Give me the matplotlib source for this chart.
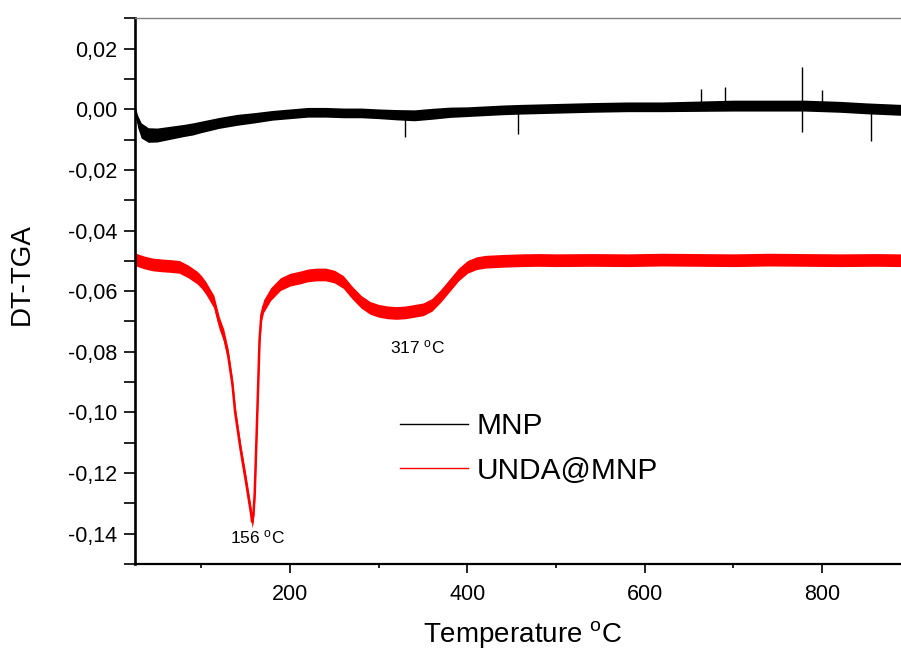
import matplotlib
matplotlib.use("Agg")
import matplotlib.pyplot as plt
from matplotlib.ticker import MultipleLocator, FuncFormatter

plt.rcParams['font.family'] = ['Liberation Sans', 'DejaVu Sans']
plt.rcParams['mathtext.default'] = 'regular'

# MNP (black) - centre line and noise half-width
t_mnp = [25, 28, 32, 40, 50, 60, 70, 80, 90, 100, 120, 140, 160, 180, 200, 220, 240,
         260, 280, 300, 320, 340, 360, 380, 400, 420, 440, 460, 500, 540, 580, 620,
         660, 700, 740, 780, 820, 850, 889]
dtg_mnp = [0.000, -0.004, -0.007, -0.0085, -0.0085, -0.008, -0.0075, -0.007, -0.0065,
           -0.0058, -0.0045, -0.0035, -0.0028, -0.002, -0.0015, -0.001, -0.001,
           -0.0012, -0.0012, -0.0015, -0.0018, -0.002, -0.0015, -0.001, -0.0008,
           -0.0005, -0.0002, 0.0, 0.0003, 0.0006, 0.0008, 0.0008, 0.001, 0.0012,
           0.0012, 0.0012, 0.0008, 0.0003, -0.0002]
noise_mnp = [0.001, 0.002, 0.0025, 0.0024, 0.0023, 0.0022, 0.0021, 0.002, 0.002,
             0.0019, 0.0018, 0.0018, 0.0017, 0.0016, 0.0016, 0.0016, 0.0016, 0.0016,
             0.0016, 0.0016, 0.0017, 0.0018, 0.0018, 0.0017, 0.0016, 0.0016, 0.0016,
             0.0016, 0.0016, 0.0016, 0.0016, 0.0016, 0.0017, 0.0018, 0.0018, 0.0018,
             0.0018, 0.0018, 0.0018]
# isolated spikes of the MNP trace (temperature, bottom, top)
spike_t = [330, 457, 663, 691, 777, 800, 855]
spike_lo = [-0.009, -0.008, 0.001, 0.001, -0.0076, 0.001, -0.0104]
spike_hi = [-0.002, 0.000, 0.0068, 0.0075, 0.0139, 0.0065, 0.000]

# UNDA@MNP (red)
t_unda = [25, 35, 45, 55, 65, 75, 85, 95, 100, 105, 110, 114, 120, 125, 130, 135, 138,
          144, 150, 153, 156, 157, 158.5, 160, 162, 163.5, 165.5, 167.5, 170, 174, 178,
          189, 200, 211, 220, 230, 240, 250, 260, 270, 280, 290, 300, 310, 320, 330,
          340, 350, 360, 370, 380, 390, 400, 410, 420, 440, 460, 480, 500, 540, 580,
          620, 660, 700, 740, 780, 820, 860, 889]
dtg_unda = [-0.0495, -0.0505, -0.0512, -0.0515, -0.0517, -0.052, -0.0535, -0.0555,
            -0.057, -0.059, -0.0615, -0.0635, -0.0705, -0.0745, -0.081, -0.091, -0.1,
            -0.112, -0.1225, -0.128, -0.1335, -0.136, -0.134, -0.127, -0.109, -0.095,
            -0.076, -0.068, -0.065, -0.063, -0.061, -0.0577, -0.0562, -0.0555, -0.0548,
            -0.0545, -0.0545, -0.0552, -0.057, -0.0605, -0.0635, -0.0655, -0.0665,
            -0.067, -0.0672, -0.067, -0.0665, -0.066, -0.0645, -0.0615, -0.058, -0.0545,
            -0.052, -0.0508, -0.0503, -0.0500, -0.0498, -0.0497, -0.0498, -0.0497,
            -0.0498, -0.0496, -0.0497, -0.0498, -0.0496, -0.0497, -0.0498, -0.0497,
            -0.0498]
noise_unda = 0.0021

fig = plt.figure(figsize=(9.01, 6.53), dpi=100)
ax = fig.add_axes([135 / 901, 1 - 564 / 653, 766 / 901, (564 - 18.3) / 653])

lo = [v - n for v, n in zip(dtg_mnp, noise_mnp)]
hi = [v + n for v, n in zip(dtg_mnp, noise_mnp)]
ax.fill_between(t_mnp, lo, hi, color='black', lw=0)
ax.plot(t_mnp, dtg_mnp, color='black', lw=1.2, label='MNP')
ax.vlines(spike_t, spike_lo, spike_hi, color='black', lw=1.0)

lo_r = [v - noise_unda for v in dtg_unda]
hi_r = [v + noise_unda for v in dtg_unda]
ax.fill_between(t_unda, lo_r, hi_r, color='red', lw=0)
ax.plot(t_unda, dtg_unda, color='red', lw=1.8, label='UNDA@MNP')

ax.set_xlim(25, 889)
ax.set_ylim(-0.15, 0.03)

ax.xaxis.set_major_locator(MultipleLocator(200))
ax.xaxis.set_minor_locator(MultipleLocator(100))
ax.yaxis.set_major_locator(MultipleLocator(0.02))
ax.yaxis.set_minor_locator(MultipleLocator(0.01))


def comma(v, pos):
    s = f"{v:.2f}"
    if s == "-0.00":
        s = "0.00"
    return s.replace('.', ',')


ax.yaxis.set_major_formatter(FuncFormatter(comma))

ax.spines['right'].set_visible(False)
ax.spines['top'].set_color('#808080')
ax.spines['top'].set_linewidth(1.0)
ax.spines['left'].set_linewidth(1.9)
ax.spines['bottom'].set_linewidth(1.6)

ax.tick_params(axis='y', which='both', direction='out', length=8, width=1.2,
               labelsize=15.5, pad=5)
ax.tick_params(axis='x', which='major', direction='out', length=6.5, width=1.2,
               labelsize=15.5, pad=8)
ax.tick_params(axis='x', which='minor', direction='out', length=3, width=1.2)

fig.text(22 / 901, 1 - 274 / 653, 'DT-TGA', rotation=90, ha='center', va='center',
         fontsize=20)
fig.text(523 / 901, 1 - 634 / 653, r'Temperature $^{o}$C', ha='center', va='center',
         fontsize=20)

ax.text(343.5, -0.0784, r'317 $^{o}$C', ha='center', va='center', fontsize=12.5)
ax.text(162.7, -0.1412, r'156 $^{o}$C', ha='center', va='center', fontsize=12.5)

leg = ax.legend(loc='center left', bbox_to_anchor=(400 / 901, 1 - 448.5 / 653),
                bbox_transform=fig.transFigure, frameon=False, fontsize=21.5,
                handlelength=2.27, handletextpad=0.3, labelspacing=0.55,
                borderpad=0, borderaxespad=0)
for line in leg.get_lines():
    line.set_linewidth(1.0)

fig.savefig('out.png', dpi=100)
